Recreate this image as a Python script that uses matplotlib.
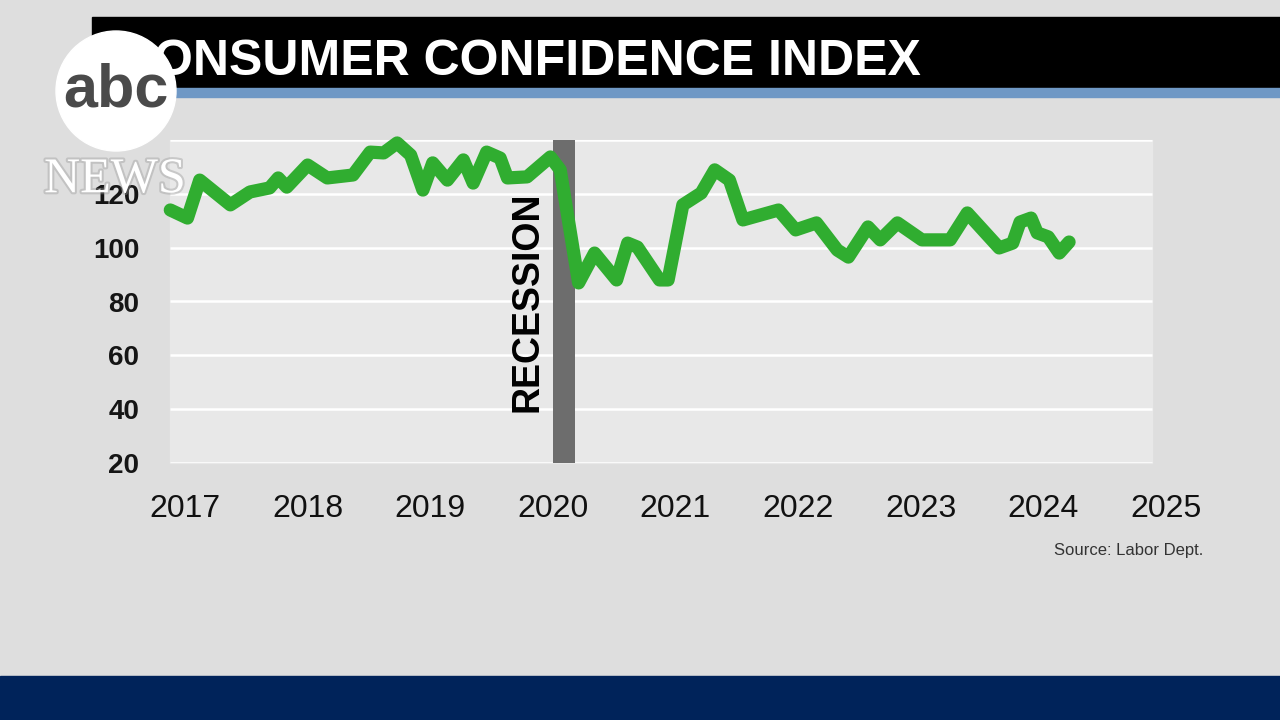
import matplotlib.pyplot as plt
import matplotlib.patheffects as pe
from matplotlib.patches import Rectangle, Circle

# Consumer confidence index (decimal years)
years = [2016.88, 2017.02, 2017.12, 2017.37, 2017.53, 2017.69, 2017.76, 2017.83,
         2018.00, 2018.16, 2018.37, 2018.51, 2018.62, 2018.73, 2018.84, 2018.94,
         2019.02, 2019.14, 2019.27, 2019.35, 2019.46, 2019.57, 2019.63, 2019.79,
         2019.98, 2020.06, 2020.21, 2020.34, 2020.52, 2020.61, 2020.69, 2020.87,
         2020.94, 2021.06, 2021.21, 2021.32, 2021.44, 2021.55, 2021.84, 2021.98,
         2022.15, 2022.32, 2022.41, 2022.57, 2022.67, 2022.81, 2023.01, 2023.24,
         2023.38, 2023.64, 2023.75, 2023.81, 2023.90, 2023.95, 2024.04, 2024.13,
         2024.21]
index = [114.0, 111.0, 125.1, 115.9, 120.7, 122.2, 125.9, 122.5,
         130.7, 125.9, 127.0, 135.5, 135.2, 138.9, 134.4, 121.4,
         131.5, 125.1, 132.6, 124.0, 135.5, 133.3, 125.9, 126.3,
         133.7, 128.9, 86.9, 98.0, 88.0, 101.7, 100.2, 88.0,
         88.0, 115.9, 120.3, 128.9, 125.1, 110.3, 114.0, 106.6,
         109.2, 99.1, 96.5, 107.7, 102.9, 109.2, 102.9, 102.9,
         112.9, 99.9, 101.7, 109.5, 111.0, 105.5, 104.0, 98.0,
         102.1]

year_ticks = [2017, 2018, 2019, 2020, 2021, 2022, 2023, 2024, 2025]
value_ticks = [20, 40, 60, 80, 100, 120, 140]
value_labels = ['20', '40', '60', '80', '100', '120', '']  # 140 sits under the logo
recession = (2020.0, 2020.18)

fig = plt.figure(figsize=(12.8, 7.2), dpi=100)
fig.patch.set_facecolor('#dedede')

# background layer in pixel units
bg = fig.add_axes([0, 0, 1, 1], zorder=-1)
bg.set_xlim(0, 1280)
bg.set_ylim(720, 0)
bg.axis('off')
bg.add_patch(Rectangle((170, 140), 982, 323, color='#e8e8e8'))
bg.add_patch(Rectangle((92, 17), 1188, 71, color='black'))
bg.add_patch(Rectangle((92, 88), 1188, 9, color='#6f98c5'))
bg.add_patch(Rectangle((0, 676), 1280, 44, color='#00235a'))
bg.text(118, 75, 'CONSUMER CONFIDENCE INDEX', color='white', fontsize=36,
        fontweight='bold', family='Liberation Sans', va='baseline')
bg.text(1203, 551, 'Source: Labor Dept.', ha='right', va='center',
        fontsize=12, color='#333333', family='Liberation Sans')

# chart
x_left = 2017 - 15 / 122.6
x_grid_end = 2017 + (1152 - 185) / 122.6
ax = fig.add_axes([170 / 1280, 257 / 720, (1215 - 170) / 1280, 323 / 720])
ax.set_facecolor('none')
ax.set_xlim(x_left, 2025.4)
ax.set_ylim(20, 140)
for s in ax.spines.values():
    s.set_visible(False)

ax.hlines(value_ticks, x_left, x_grid_end, colors='white', lw=1.8, zorder=1)
ax.axvspan(recession[0], recession[1], color='#6d6d6d', lw=0, zorder=2)
ax.plot(years, index, color='#30ad30', lw=9.5, solid_joinstyle='round',
        solid_capstyle='round', zorder=3, clip_on=False)
ax.text(recession[0] - 0.21, 80, 'RECESSION', rotation=90, ha='center', va='center',
        fontsize=27, fontweight='bold', family='Liberation Sans', color='black', zorder=4)

ax.set_xticks(year_ticks)
ax.set_xticklabels([str(y) for y in year_ticks], fontsize=23, color='#111111',
                   family='Liberation Sans')
ax.set_yticks(value_ticks)
ax.set_yticklabels(value_labels, fontsize=20, fontweight='bold',
                   color='#151515', family='Liberation Sans')
ax.tick_params(axis='x', length=0, pad=22)
ax.tick_params(axis='y', length=0, pad=22)

# abc news logo overlay
fg = fig.add_axes([0, 0, 1, 1], zorder=5)
fg.set_xlim(0, 1280)
fg.set_ylim(720, 0)
fg.axis('off')
fg.set_facecolor('none')
fg.add_patch(Circle((116, 91), 60, color='white'))
fg.text(116, 91, 'abc', ha='center', va='center', fontsize=44, fontweight='bold',
        color='#4a4a4a', family='Liberation Sans')
fg.text(115, 180, 'NEWS', ha='center', va='center', fontsize=36, color='white',
        family='Liberation Serif',
        path_effects=[pe.withStroke(linewidth=3, foreground='#9a9a9a', alpha=0.4)])

fig.savefig('out.png', dpi=100, facecolor=fig.get_facecolor())
